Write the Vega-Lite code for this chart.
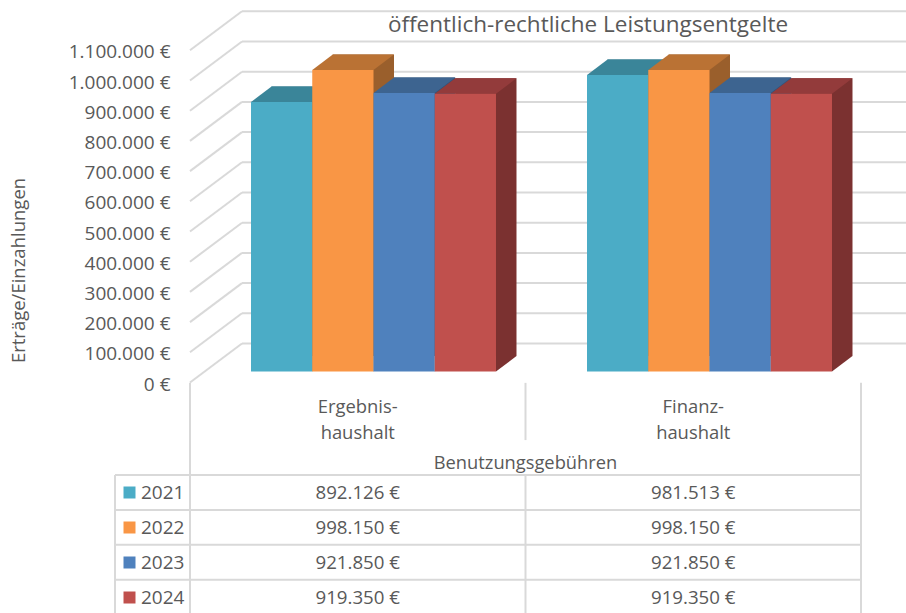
{"$schema":"https://vega.github.io/schema/vega-lite/v6.json","width":906,"height":613,"autosize":{"type":"none"},"padding":0,"background":"#ffffff",
"config":{"view":{"stroke":null},"font":"Open Sans","locale":{"number":{"decimal":",","thousands":".","grouping":[3],"currency":[""," €"]}}},
"title":{"text":"öffentlich-rechtliche Leistungsentgelte","anchor":"middle","frame":"group","dx":135,"offset":-36,"fontSize":22.5,"fontWeight":"normal","color":"#595959","font":"Open Sans"},
"datasets":{"main":[
{"group":"Ergebnis-\nhaushalt","year":"2021","value":892126},{"group":"Ergebnis-\nhaushalt","year":"2022","value":998150},{"group":"Ergebnis-\nhaushalt","year":"2023","value":921850},{"group":"Ergebnis-\nhaushalt","year":"2024","value":919350},
{"group":"Finanz-\nhaushalt","year":"2021","value":981513},{"group":"Finanz-\nhaushalt","year":"2022","value":998150},{"group":"Finanz-\nhaushalt","year":"2023","value":921850},{"group":"Finanz-\nhaushalt","year":"2024","value":919350}],
"ticks":[{"v":0},{"v":100000},{"v":200000},{"v":300000},{"v":400000},{"v":500000},{"v":600000},{"v":700000},{"v":800000},{"v":900000},{"v":1000000},{"v":1100000}],
"groups":[{"group":"Ergebnis-\nhaushalt"},{"group":"Finanz-\nhaushalt"}]},
"resolve":{"scale":{"x":"independent","y":"independent","color":"independent"}},
"layer":[
{"data":{"name":"ticks"},
 "encoding":{"y":{"field":"v","type":"quantitative","scale":{"domain":[0,1100000],"range":[371.5,39.3],"nice":false,"zero":false},
   "axis":{"values":[0,100000,200000,300000,400000,500000,600000,700000,800000,900000,1000000,1100000],"format":"$,.0f","domain":false,"ticks":false,"grid":false,"offset":-190,"labelPadding":20,"labelOffset":12.5,"labelFontSize":19,"labelColor":"#595959","labelFont":"Open Sans","title":"Erträge/Einzahlungen","titleFontSize":18.5,"titleFontWeight":"normal","titleColor":"#595959","titleFont":"Open Sans","titleX":-172,"titleY":270,"titleAngle":-90,"titleAlign":"center","titleBaseline":"middle"}}},
 "layer":[
  {"mark":{"type":"rule","color":"#d9d9d9","strokeWidth":2,"xOffset":0,"x2Offset":52,"yOffset":11,"y2Offset":-28},
   "encoding":{"x":{"datum":0,"type":"quantitative","scale":{"domain":[0,1],"range":[190,906]},"axis":null},"x2":{"datum":0},"y2":{"field":"v"}}},
  {"mark":{"type":"rule","color":"#d9d9d9","strokeWidth":2,"xOffset":52,"x2Offset":0,"yOffset":-28,"y2Offset":-28},
   "encoding":{"x":{"datum":0,"type":"quantitative","scale":{"domain":[0,1],"range":[190,906]},"axis":null},"x2":{"datum":1},"y2":{"field":"v"}}}
 ]},
{"data":{"name":"main"},
 "mark":{"type":"bar","yOffset":-15.5,"y2Offset":-15.5},
 "encoding":{
  "x":{"field":"group","type":"nominal","sort":null,"scale":{"range":[226,898],"paddingInner":0,"paddingOuter":0},"axis":null},
  "xOffset":{"field":"year","type":"nominal","scale":{"paddingInner":0,"paddingOuter":0.743}},
  "y":{"field":"value","type":"quantitative","stack":null,"scale":{"domain":[0,1100000],"range":[371.5,39.3],"nice":false},"axis":null},
  "y2":{"datum":0},
  "color":{"field":"year","type":"nominal","legend":null,"scale":{"range":["#2E6F81","#9A5F2C","#305279","#7B3130"]}}}},
{"data":{"name":"main"},
 "resolve":{"scale":{"color":"independent"}},
 "encoding":{
  "x":{"field":"group","type":"nominal","sort":null,"scale":{"range":[205.5,877.5],"paddingInner":0,"paddingOuter":0},"axis":null},
  "xOffset":{"field":"year","type":"nominal","scale":{"paddingInner":0,"paddingOuter":0.743}},
  "y":{"field":"value","type":"quantitative","stack":null,"scale":{"domain":[0,1100000],"range":[371.5,39.3],"nice":false},"axis":null}},
 "layer":[
  {"mark":{"type":"point","filled":true,"size":4,"opacity":1,"strokeWidth":0,"shape":"M30.6,0 L51.1,-15.5 L30.6,-15.5 Z"},
   "encoding":{"y":{"datum":0,"type":"quantitative"},"color":{"field":"year","type":"nominal","legend":null,"scale":{"range":["#2E6F81","#9A5F2C","#305279","#7B3130"]}}}},
  {"mark":{"type":"point","filled":true,"size":4,"opacity":1,"strokeWidth":0,"shape":"M-30.6,0 L30.6,0 L51.1,-15.5 L-10.1,-15.5 Z"},
   "encoding":{"color":{"field":"year","type":"nominal","legend":null,"scale":{"range":["#3A8599","#BA7234","#3D6490","#933B3B"]}}}},
  {"mark":{"type":"bar"},
   "encoding":{"color":{"field":"year","type":"nominal","scale":{"range":["#4BACC6","#F99645","#4F81BD","#C0504D"]},
     "legend":{"orient":"none","legendX":120,"legendY":483,"title":null,"symbolType":"square","symbolSize":144,"symbolStrokeWidth":0,"symbolOpacity":1,"labelFontSize":19,"labelColor":"#595959","labelFont":"Open Sans","labelOffset":2,"rowPadding":15,"columns":1}}}}
 ]},
{"data":{"values":[{"k":1}]},
 "encoding":{
  "x":{"datum":0,"type":"quantitative","scale":{"domain":[0,2],"range":[190,861]},"axis":null},
  "y":{"datum":0,"type":"quantitative","scale":{"domain":[0,4],"range":[475,614.6],"zero":false,"nice":false},"axis":null}},
 "layer":[
  {"mark":{"type":"rule","color":"#d9d9d9","strokeWidth":2},"encoding":{"x":{"datum":-0.2235,"type":"quantitative"},"x2":{"datum":2},"y":{"datum":0,"type":"quantitative"}}},
  {"mark":{"type":"rule","color":"#d9d9d9","strokeWidth":2},"encoding":{"x":{"datum":-0.2235,"type":"quantitative"},"x2":{"datum":2},"y":{"datum":1,"type":"quantitative"}}},
  {"mark":{"type":"rule","color":"#d9d9d9","strokeWidth":2},"encoding":{"x":{"datum":-0.2235,"type":"quantitative"},"x2":{"datum":2},"y":{"datum":2,"type":"quantitative"}}},
  {"mark":{"type":"rule","color":"#d9d9d9","strokeWidth":2},"encoding":{"x":{"datum":-0.2235,"type":"quantitative"},"x2":{"datum":2},"y":{"datum":3,"type":"quantitative"}}},
  {"mark":{"type":"rule","color":"#d9d9d9","strokeWidth":2},"encoding":{"x":{"datum":-0.2235,"type":"quantitative"},"y":{"datum":0,"type":"quantitative"},"y2":{"datum":4}}},
  {"mark":{"type":"rule","color":"#d9d9d9","strokeWidth":2},"encoding":{"x":{"datum":0,"type":"quantitative"},"y":{"datum":-2.64,"type":"quantitative"},"y2":{"datum":4}}},
  {"mark":{"type":"rule","color":"#d9d9d9","strokeWidth":2},"encoding":{"x":{"datum":2,"type":"quantitative"},"y":{"datum":-2.64,"type":"quantitative"},"y2":{"datum":4}}},
  {"mark":{"type":"rule","color":"#d9d9d9","strokeWidth":2},"encoding":{"x":{"datum":1,"type":"quantitative"},"y":{"datum":-2.64,"type":"quantitative"},"y2":{"datum":-1}}},
  {"mark":{"type":"rule","color":"#d9d9d9","strokeWidth":2},"encoding":{"x":{"datum":1,"type":"quantitative"},"y":{"datum":0,"type":"quantitative"},"y2":{"datum":4}}},
  {"mark":{"type":"text","text":"Benutzungsgebühren","fontSize":18.3,"color":"#595959","font":"Open Sans"},"encoding":{"x":{"datum":1,"type":"quantitative"},"y":{"datum":-0.32,"type":"quantitative"}}}
 ]},
{"data":{"name":"groups"},
 "mark":{"type":"text","fontSize":18.4,"color":"#595959","font":"Open Sans","lineBreak":"\n","lineHeight":26},
 "encoding":{
  "x":{"field":"group","type":"nominal","sort":null,"scale":{"range":[190,861],"paddingInner":0,"paddingOuter":0},"axis":null},
  "y":{"datum":-1.945,"type":"quantitative","scale":{"domain":[0,4],"range":[475,614.6],"zero":false,"nice":false},"axis":null},
  "text":{"field":"group"}}},
{"data":{"name":"main"},
 "mark":{"type":"text","fontSize":18.7,"color":"#595959","font":"Open Sans","dy":1},
 "encoding":{
  "x":{"field":"group","type":"nominal","sort":null,"scale":{"range":[190,861],"paddingInner":0,"paddingOuter":0},"axis":null},
  "y":{"field":"year","type":"nominal","scale":{"range":[475,614.6],"paddingInner":0,"paddingOuter":0},"axis":null},
  "text":{"field":"value","type":"quantitative","format":"$,.0f"}}}
]}
